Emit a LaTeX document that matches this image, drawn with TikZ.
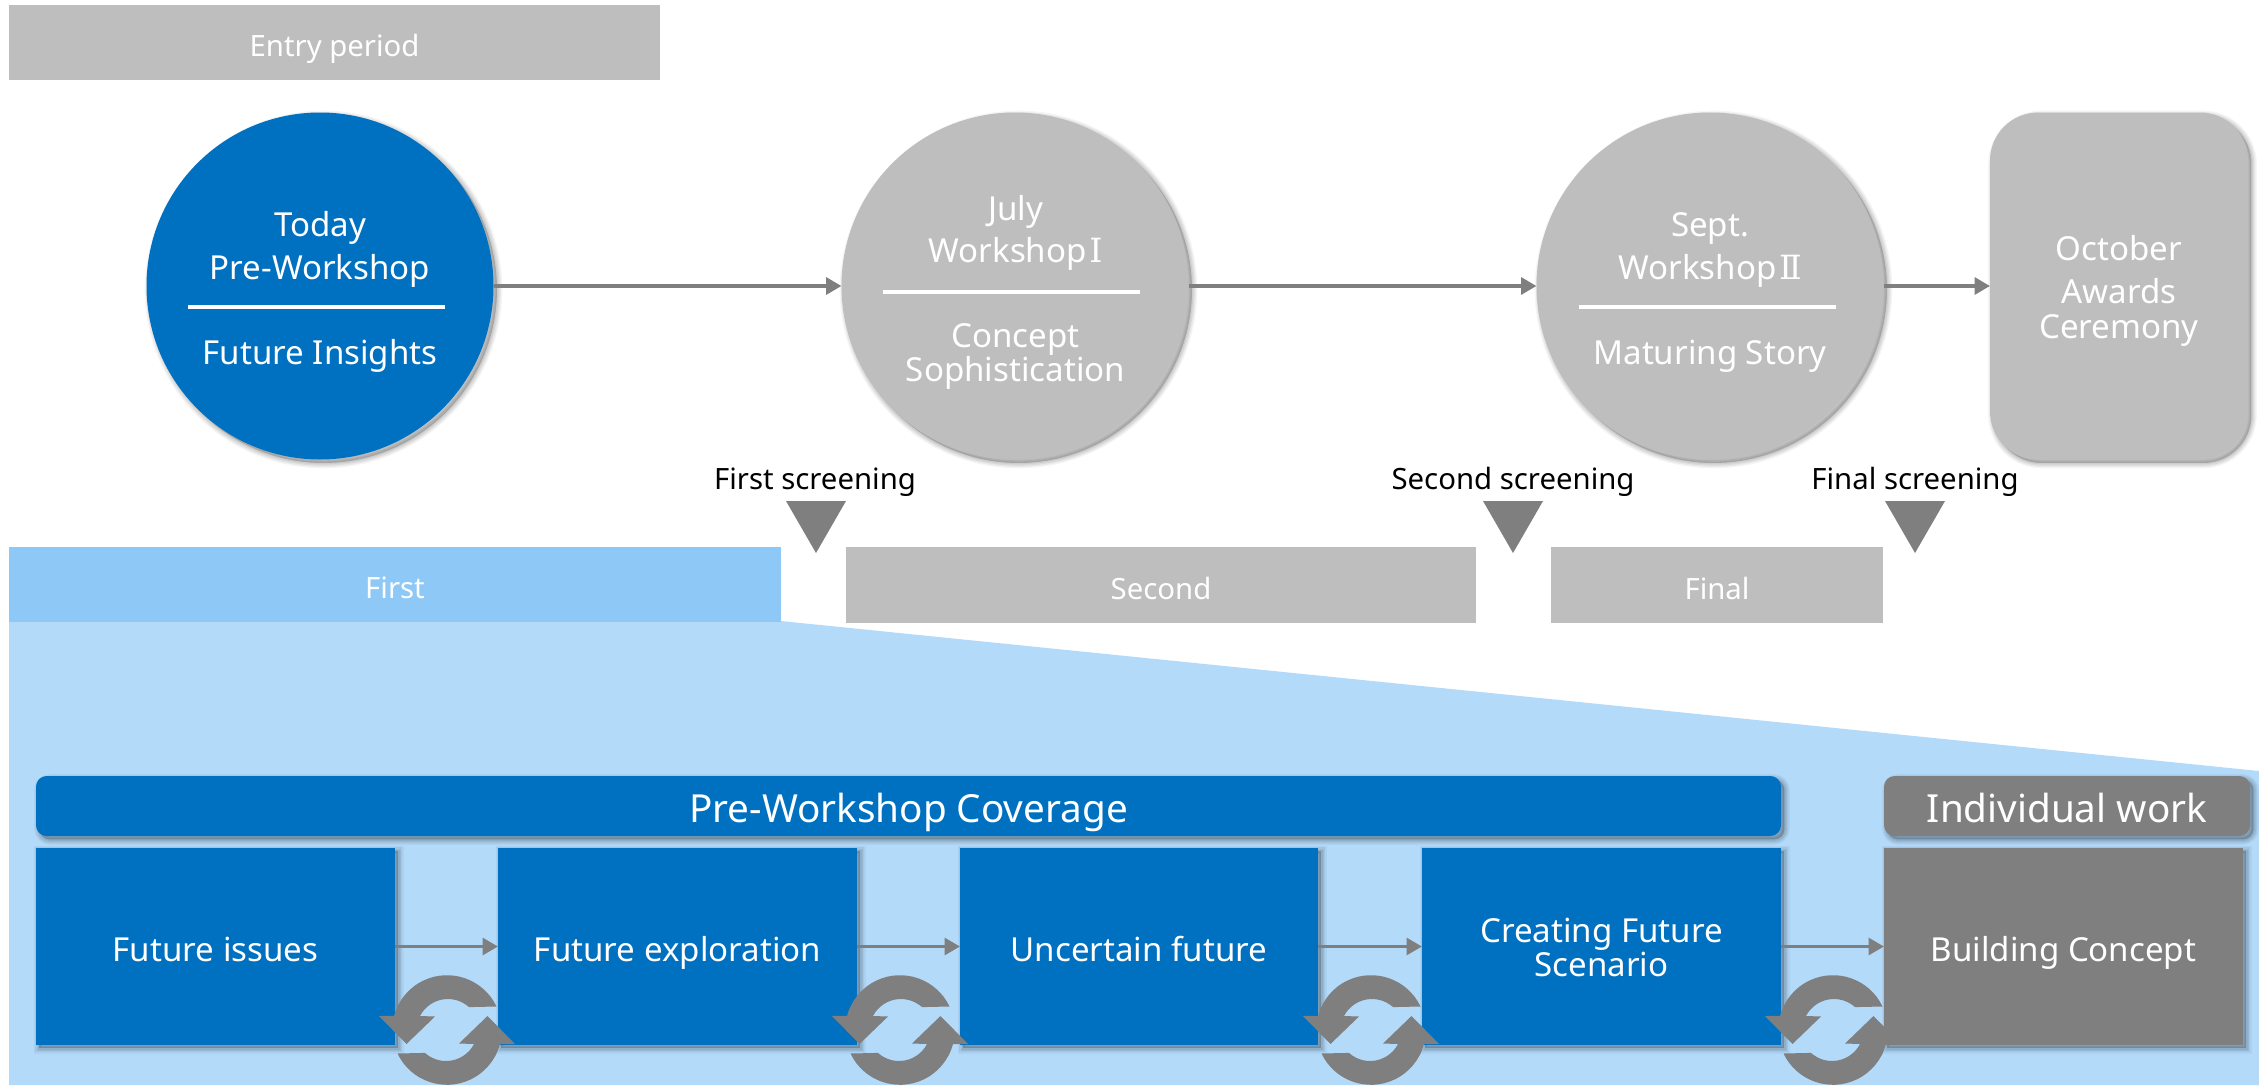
\documentclass[tikz,border=0pt]{standalone}
\usepackage{fontspec}
\setmainfont{Noto Sans}
\newfontfamily\romf{DejaVu Serif}
\usetikzlibrary{arrows.meta,shadows,shapes.geometric}
\definecolor{mblue}{HTML}{0070C0}
\definecolor{lblue}{HTML}{B4DAFA}
\definecolor{mblue2}{HTML}{8DC8F7}
\definecolor{lgray}{HTML}{BEBEBE}
\definecolor{dgray}{HTML}{7F7F7F}
\newcommand{\txA}{\fontsize{24.8}{26}\selectfont}
\newcommand{\txB}{\fontsize{22}{24}\selectfont}
\newcommand{\txC}{\fontsize{29}{32}\selectfont}
\newcommand{\romsize}{\fontsize{25}{26}\selectfont}
\tikzset{
  softshadow/.style={
    general shadow={draw=black,fill=black,line width=8pt,opacity=.04,shadow xshift=2.6pt,shadow yshift=-2.6pt},
    general shadow={draw=black,fill=black,line width=6pt,opacity=.055,shadow xshift=2.6pt,shadow yshift=-2.6pt},
    general shadow={draw=black,fill=black,line width=4pt,opacity=.06,shadow xshift=2.6pt,shadow yshift=-2.6pt},
    general shadow={draw=black,fill=black,line width=2pt,opacity=.06,shadow xshift=2.6pt,shadow yshift=-2.6pt}},
  sz/.style n args={2}{minimum width=#1*0.75pt,minimum height=#2*0.75pt,inner sep=0pt,outer sep=0pt},
  flatbar/.style={rectangle,text=white,text height=22pt,text depth=1pt,font=\txB},
  stepbox/.style={rectangle,fill=mblue,text=white,softshadow,align=center,font=\txA,text height=25pt,text depth=2pt},
  headbar/.style={rectangle,rounded corners=8pt,text=white,softshadow,font=\txC,text height=27pt,text depth=2pt},
  bigcircle/.style={circle,minimum size=347*0.75pt,inner sep=0pt,outer sep=0pt,softshadow},
  lbl/.style={text=white,font=\txA,inner sep=0pt,text height=20.4pt,text depth=3.2pt},
  scr/.style={text=black,font=\txB,inner sep=0pt,text height=20pt,text depth=2.2pt},
  rule/.style={draw=white,line width=3pt},
  conn/.style={draw=dgray,line width=3pt,-{Triangle[length=11.5pt,width=12.5pt]}},
  conns/.style={draw=dgray,line width=2.6pt,-{Triangle[length=11.5pt,width=12.5pt]}},
  tri/.style={fill=dgray}
}
\newcommand{\syncicon}[2]{%
  \begin{scope}[shift={(#1,#2)}]
    \fill[dgray] (49.5,-23.5) arc[start angle=25.4,end angle=165,radius=41.1pt] -- (-68,-14) -- (-40.5,14) -- (-12,-13.5) -- (-27,-14) arc[start angle=152.6,end angle=48,radius=23.6pt] -- cycle;
    \begin{scope}[rotate=180]
    \fill[dgray] (49.5,-23.5) arc[start angle=25.4,end angle=165,radius=41.1pt] -- (-68,-14) -- (-40.5,14) -- (-12,-13.5) -- (-27,-14) arc[start angle=152.6,end angle=48,radius=23.6pt] -- cycle;
    \end{scope}
  \end{scope}}
\begin{document}
\begin{tikzpicture}[x=0.75pt,y=-0.75pt]
\useasboundingbox (0,0) rectangle (2259,1085);
\clip (0,0) rectangle (2259,1085);
% top bar
\node[flatbar,fill=lgray,sz={651}{75}] (entry) at (334.5,42.5) {Entry period};
% circles
\node[bigcircle,fill=mblue] (c1) at (320,286) {};
\node[bigcircle,fill=lgray] (c2) at (1015,286) {};
\node[bigcircle,fill=lgray] (c3) at (1710,286) {};
\node[rectangle,rounded corners=36pt,fill=lgray,softshadow,sz={258}{347}] (award) at (2119,286) {};
\draw[conn] (c1.east) -- (c2.west);
\draw[conn] (c2.east) -- (c3.west);
\draw[conn] (c3.east) -- (award.west);
% circle 1
\node[lbl] (t1a) at (320,225) {Today};
\node[lbl] (t1b) at (320,268) {Pre-Workshop};
\coordinate (r1a) at (188,307); \coordinate (r1b) at (445,307);
\draw[rule] (r1a) -- (r1b);
\node[lbl] (t1c) at (320,353) {Future Insights};
% circle 2
\node[lbl] (t2a) at (1015.5,209) {July};
\node[lbl] (t2b) at (1015.5,251) {Workshop\hspace{0.08em}{\romf\romsize Ⅰ}};
\coordinate (r2a) at (883,292); \coordinate (r2b) at (1140,292);
\draw[rule] (r2a) -- (r2b);
\node[lbl] (t2c) at (1015.5,336) {Concept};
\node[lbl] (t2d) at (1015.5,370) {Sophistication};
% circle 3
\node[lbl] (t3a) at (1710,225) {Sept.};
\node[lbl] (t3b) at (1710,268) {Workshop\hspace{0.08em}{\romf\romsize Ⅱ}};
\coordinate (r3a) at (1579,307); \coordinate (r3b) at (1836,307);
\draw[rule] (r3a) -- (r3b);
\node[lbl] (t3c) at (1710,353) {Maturing Story};
% awards
\node[lbl] (t4a) at (2119,249) {October};
\node[lbl] (t4b) at (2119,292) {Awards};
\node[lbl] (t4c) at (2119,327) {Ceremony};
% screening
\node[scr] (s1) at (815,478) {First screening};
\node[scr] (s2) at (1513,478) {Second screening};
\node[scr] (s3) at (1915,478) {Final screening};
\fill[tri] (786,501) -- (846,501) -- (816,553) -- cycle;
\fill[tri] (1483,501) -- (1543,501) -- (1513,553) -- cycle;
\fill[tri] (1885,501) -- (1945,501) -- (1915,553) -- cycle;
% trapezoid and phase bars
\fill[lblue] (9,621) -- (781,621) -- (2259,771) -- (2259,1085) -- (9,1085) -- cycle;
\node[flatbar,fill=mblue2,sz={772}{75}] (first) at (395,584) {First};
\node[flatbar,fill=lgray,sz={630}{76}] (second) at (1161,585) {Second};
\node[flatbar,fill=lgray,sz={332}{76}] (final) at (1717,585) {Final};
% header bars
\node[headbar,fill=mblue,sz={1745}{60}] (cov) at (908.5,806) {Pre-Workshop Coverage};
\node[headbar,fill=dgray,sz={366}{60}] (ind) at (2067,806) {Individual work};
% step boxes
\node[stepbox,sz={359}{197}] (b1) at (215.5,946.5) {Future issues};
\node[stepbox,sz={359}{197}] (b2) at (677.5,946.5) {Future exploration};
\node[stepbox,sz={358}{197}] (b3) at (1139,946.5) {Uncertain future};
\node[stepbox,sz={359}{197},text height=,text depth=] (b4) at (1601.5,946.5) {\rule{0pt}{19.5pt}Creating Future\\Scenario};
\node[stepbox,fill=dgray,sz={359}{197}] (b5) at (2063.5,946.5) {Building Concept};
\draw[conns] (b1.east) -- (b2.west);
\draw[conns] (b2.east) -- (b3.west);
\draw[conns] (b3.east) -- (b4.west);
\draw[conns] (b4.east) -- (b5.west);
% cycle icons
\syncicon{447}{1030}
\syncicon{900}{1030}
\syncicon{1371}{1030}
\syncicon{1833}{1030}
\end{tikzpicture}
\end{document}
